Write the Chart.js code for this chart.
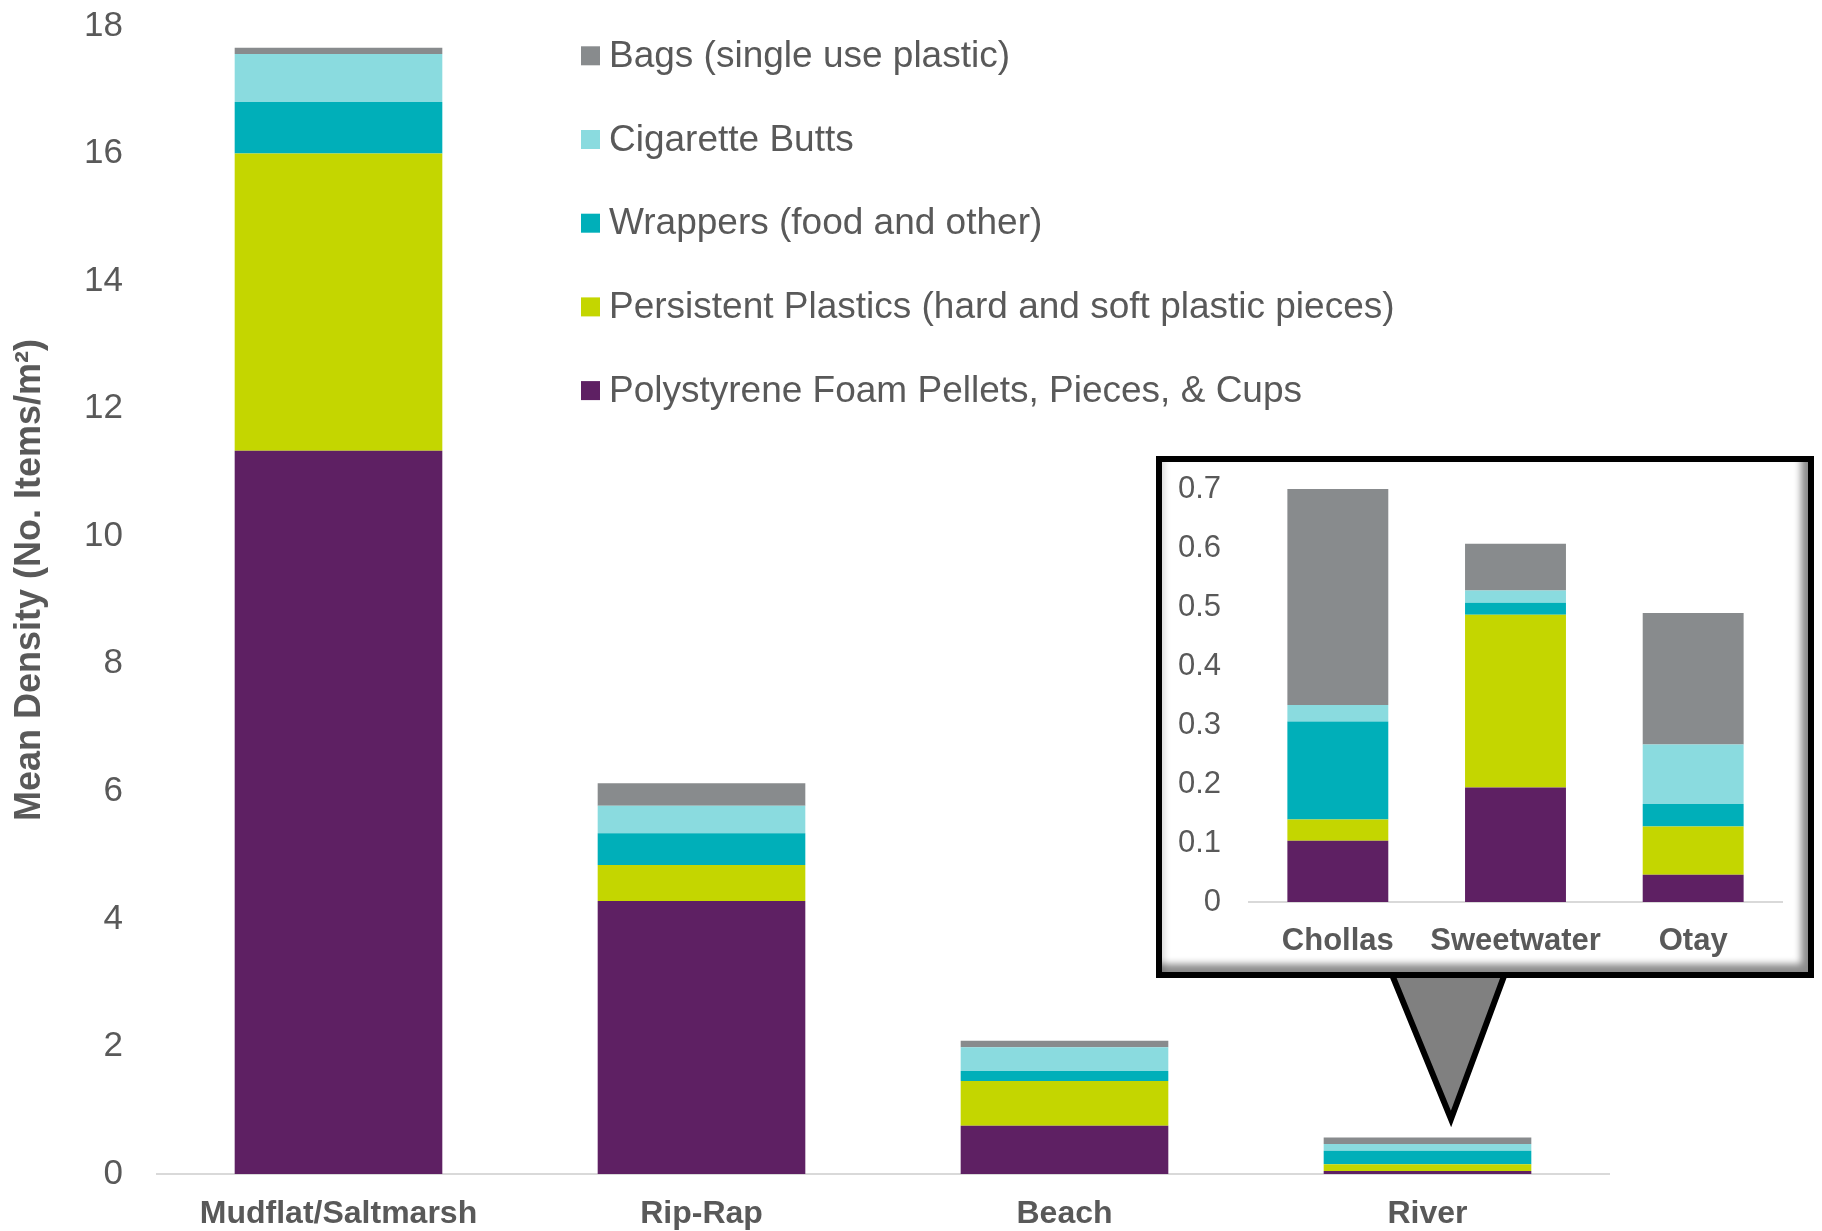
<!DOCTYPE html>
<html>
<head>
<meta charset="utf-8">
<script src="https://cdn.jsdelivr.net/npm/chart.js@4.4.1/dist/chart.umd.min.js"></script>
<style>
  body { margin: 0; background: #fff; }
  #wrap { position: relative; width: 1822px; height: 1231px; overflow: hidden; }
  #main, #pointer { position: absolute; left: 0; top: 0; }
  #inset {
    position: absolute; left: 1156px; top: 456px; width: 658px; height: 522px;
    box-sizing: border-box; border: 6px solid #000; background: #fff;
    box-shadow: inset -12px -13px 7px -5px rgba(0, 0, 0, 0.45), inset 7px 0 6px -4px rgba(0, 0, 0, 0.15);
  }
  #insetChart { position: absolute; left: 0; top: 0; }
</style>
</head>
<body>
<div id="wrap">
  <canvas id="main" width="1822" height="1231"></canvas>
  <svg id="pointer" width="1822" height="1231">
    <polygon points="1386,960 1510,960 1451,1119" fill="#808080" stroke="#000" stroke-width="6" stroke-linejoin="miter" stroke-miterlimit="10"/>
  </svg>
  <div id="inset"><canvas id="insetChart" width="646" height="510"></canvas></div>
</div>
<script>
const sites = ['Mudflat/Saltmarsh', 'Rip-Rap', 'Beach', 'River'];
const polystyrene = [11.34, 4.28, 0.757, 0.047];
const persistentPlastics = [4.66, 0.565, 0.701, 0.104];
const wrappers = [0.81, 0.497, 0.157, 0.214];
const cigaretteButts = [0.75, 0.433, 0.372, 0.104];
const bags = [0.10, 0.351, 0.103, 0.104];

const rivers = ['Chollas', 'Sweetwater', 'Otay'];
const riverPolystyrene = [0.104, 0.194, 0.046];
const riverPersistentPlastics = [0.036, 0.293, 0.082];
const riverWrappers = [0.166, 0.020, 0.038];
const riverCigaretteButts = [0.028, 0.021, 0.101];
const riverBags = [0.366, 0.079, 0.223];

const seriesNames = [
    'Polystyrene Foam Pellets, Pieces, & Cups',
    'Persistent Plastics (hard and soft plastic pieces)',
    'Wrappers (food and other)',
    'Cigarette Butts',
    'Bags (single use plastic)',
];
const seriesColors = ['#5e2063', '#c4d600', '#00afb9', '#8adbdf', '#888b8d'];

const FONT = '"Liberation Sans", Arial, sans-serif';
const TEXT = '#595959';

const makeDatasets = function (series) {
    return series.map((data, i) => {
        return {
            label: seriesNames[i],
            backgroundColor: seriesColors[i],
            data: data,
        };
    });
};

// y axis: fixed width, and drop the label overhang so the plot reaches the top
const fixedY = function (width) {
    return (scale) => {
        scale.width = width;
        scale.paddingTop = 0;
        scale.paddingBottom = 0;
    };
};

// legend stacked top-down in reverse order, like the original
const sideLegend = {
    id: 'sideLegend',
    afterDraw(chart) {
        const ctx = chart.ctx;
        const items = chart.data.datasets.slice().reverse();
        ctx.save();
        ctx.font = '37px ' + FONT;
        ctx.textBaseline = 'middle';
        items.forEach((ds, i) => {
            const y = 55.8 + i * 83.7;
            ctx.fillStyle = ds.backgroundColor;
            ctx.fillRect(581, y - 9.5, 19, 19);
            ctx.fillStyle = TEXT;
            ctx.fillText(ds.label, 609, y + 1);
        });
        ctx.restore();
    }
};

new Chart(document.getElementById('main'), {
    type: 'bar',
    data: {
        labels: sites,
        datasets: makeDatasets([polystyrene, persistentPlastics, wrappers, cigaretteButts, bags]),
    },
    options: {
        responsive: false,
        animation: false,
        layout: { padding: { top: 26, right: 213, left: 0, bottom: 0 } },
        datasets: { bar: { categoryPercentage: 1, barPercentage: 0.572 } },
        scales: {
            x: {
                stacked: true,
                grid: { display: false, drawTicks: false },
                border: { display: true, color: '#d9d9d9', width: 2 },
                ticks: { color: TEXT, font: { family: FONT, size: 32, weight: 'bold' }, padding: 21, maxRotation: 0, autoSkip: false },
                afterFit: (scale) => { scale.height = 57; },
            },
            y: {
                stacked: true,
                min: 0,
                max: 18,
                grid: { display: false, drawTicks: false },
                border: { display: false },
                ticks: { stepSize: 2, color: TEXT, font: { family: FONT, size: 35 }, padding: 34 },
                title: {
                    display: true,
                    text: '    Mean Density (No. Items/m²)',
                    color: TEXT,
                    font: { family: FONT, size: 36, weight: 'bold' },
                    padding: { top: 8, bottom: 0 },
                },
                afterFit: fixedY(157),
            },
        },
        plugins: {
            legend: { display: false },
            tooltip: { enabled: false },
        },
    },
    plugins: [sideLegend],
});

new Chart(document.getElementById('insetChart'), {
    type: 'bar',
    data: {
        labels: rivers,
        datasets: makeDatasets([riverPolystyrene, riverPersistentPlastics, riverWrappers, riverCigaretteButts, riverBags]),
    },
    options: {
        responsive: false,
        animation: false,
        layout: { padding: { top: 27, right: 26, left: 0, bottom: 0 } },
        datasets: { bar: { categoryPercentage: 1, barPercentage: 0.568 } },
        scales: {
            x: {
                stacked: true,
                grid: { display: false, drawTicks: false },
                border: { display: true, color: '#d9d9d9', width: 2 },
                ticks: { color: TEXT, font: { family: FONT, size: 31, weight: 'bold' }, padding: 21, maxRotation: 0, autoSkip: false },
                afterFit: (scale) => { scale.height = 70; },
            },
            y: {
                stacked: true,
                min: 0,
                max: 0.7,
                grid: { display: false, drawTicks: false },
                border: { display: false },
                ticks: { stepSize: 0.1, color: TEXT, font: { family: FONT, size: 31 }, padding: 28 },
                afterFit: fixedY(87),
            },
        },
        plugins: {
            legend: { display: false },
            tooltip: { enabled: false },
        },
    },
});
</script>
</body>
</html>
